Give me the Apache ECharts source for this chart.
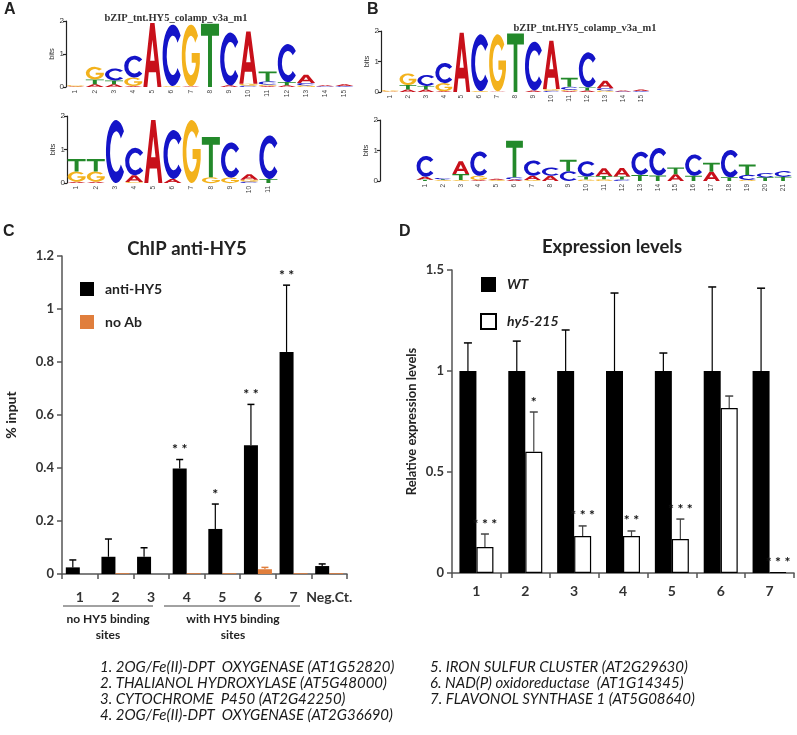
<!DOCTYPE html>
<html><head><meta charset="utf-8">
<script src="https://cdn.jsdelivr.net/npm/echarts@6/dist/echarts.min.js"></script>
<style>html,body{margin:0;padding:0;background:#fff}#c{width:797px;height:735px}</style>
</head><body><div id="c"></div>
<script>
// ================= DATA =================
const logoTitle = 'bZIP_tnt.HY5_colamp_v3a_m1';
const pos11 = ['1','2','3','4','5','6','7','8','9','10','11'];
const pos15 = ['1','2','3','4','5','6','7','8','9','10','11','12','13','14','15'];
const pos21 = ['1','2','3','4','5','6','7','8','9','10','11','12','13','14','15','16','17','18','19','20','21'];
// stacks bottom -> top : [letter, bits]
const logoA1 = [
  [['A',0.02],['G',0.04]],
  [['A',0.08],['T',0.15],['G',0.38]],
  [['A',0.08],['T',0.12],['C',0.36]],
  [['A',0.03],['G',0.26],['C',0.66]],
  [['A',1.94]],
  [['G',0.03],['C',1.86]],
  [['A',0.02],['G',1.87]],
  [['T',1.92]],
  [['A',0.05],['C',1.6]],
  [['C',0.04],['G',0.06],['A',1.58]],
  [['A',0.03],['G',0.04],['C',0.1],['T',0.3]],
  [['A',0.05],['T',0.1],['C',1.15]],
  [['G',0.05],['C',0.07],['A',0.25]],
  [['C',0.02],['A',0.03]],
  [['C',0.03],['A',0.05]]
];
const logoA2 = [
  [['A',0.04],['G',0.3],['T',0.38]],
  [['A',0.04],['G',0.3],['T',0.38]],
  [['C',1.88]],
  [['G',0.03],['A',0.2],['C',0.82]],
  [['A',1.88]],
  [['A',0.12],['C',1.46]],
  [['G',1.88]],
  [['G',0.17],['T',1.2]],
  [['G',0.16],['C',1.05]],
  [['C',0.04],['G',0.06],['A',0.16]],
  [['T',0.12],['C',1.3]]
];
const logoB1 = logoA1;
const logoB2 = [
  [['T',0.04],['A',0.1],['C',0.68]],
  [['G',0.03],['T',0.03],['C',0.04]],
  [['G',0.03],['T',0.2],['A',0.42]],
  [['A',0.03],['G',0.14],['C',0.8]],
  [['G',0.03],['A',0.04]],
  [['A',0.05],['C',0.07],['T',1.2]],
  [['G',0.03],['A',0.14],['C',0.5]],
  [['A',0.17],['C',0.27]],
  [['C',0.32],['T',0.38]],
  [['G',0.05],['T',0.1],['C',0.5]],
  [['G',0.06],['T',0.1],['A',0.26]],
  [['C',0.05],['T',0.1],['A',0.28]],
  [['T',0.2],['C',0.76]],
  [['T',0.18],['C',0.9]],
  [['A',0.22],['T',0.22]],
  [['T',0.17],['C',0.7]],
  [['A',0.3],['T',0.3]],
  [['T',0.12],['C',0.9]],
  [['G',0.04],['C',0.16],['T',0.34]],
  [['T',0.12],['C',0.14]],
  [['T',0.14],['C',0.18]]
];

const chipCats = ['1','2','3','4','5','6','7','Neg.Ct.'];
const chipAnti = [0.025,0.065,0.065,0.398,0.17,0.486,0.838,0.03];
const chipAntiErr = [0.053,0.132,0.099,0.432,0.264,0.64,1.09,0.038];
const chipNoAb = [0,0.003,0,0.003,0.003,0.018,0.003,0.003];
const chipNoAbErr = [null,null,null,null,null,0.025,null,null];
const chipStars = ['','','','**','*','**','**',''];
const chipGroups = ['no HY5 binding\nsites','with HY5 binding\nsites'];

const exprCats = ['1','2','3','4','5','6','7'];
const exprWT = [1,1,1,1,1,1,1];
const exprWTErr = [1.139,1.148,1.203,1.386,1.089,1.416,1.41];
const exprHy5 = [0.129,0.6,0.183,0.183,0.168,0.817,0.005];
const exprHy5Err = [0.193,0.797,0.233,0.208,0.267,0.876,null];
const exprStars = ['***','*','***','**','***','','***'];

const geneLeft = ['1. 2OG/Fe(II)-DPT  OXYGENASE (AT1G52820)','2. THALIANOL HYDROXYLASE (AT5G48000)','3. CYTOCHROME  P450 (AT2G42250)','4. 2OG/Fe(II)-DPT  OXYGENASE (AT2G36690)'];
const geneRight = ['5. IRON SULFUR CLUSTER (AT2G29630)','6. NAD(P) oxidoreductase  (AT1G14345)','7. FLAVONOL SYNTHASE 1 (AT5G08640)'];

// ================= STYLE =================
const LETTERS = 'ACGT';
const LETTER_COLORS = ['#C8101A','#1414C8','#F3B21C','#23892A'];
const LETTER_PATHS = [
  'M0,100 L38,0 L62,0 L100,100 L78,100 L70,77 L30,77 L22,100 Z M37.6,59 L62.4,59 L50,26 Z',
  'M88.3,17.9 A50,50 0 1 0 88.3,82.1 L73,70.6 A30,32 0 1 1 73,29.4 Z',
  'M88.3,17.9 A50,50 0 1 0 98.3,62.9 L98.3,46 L54,46 L54,62 L76,62 L76,66 A30,32 0 1 1 73,29.4 Z',
  'M0,0 L100,0 L100,19 L61,19 L61,100 L39,100 L39,19 L0,19 Z'
];
const FONT = 'Lato, "Open Sans", sans-serif';

function logoData(stacks){
  const out=[];
  stacks.forEach((st,i)=>{ let y=0; st.forEach(([l,h])=>{ out.push([i,y,y+h,LETTERS.indexOf(l)]); y+=h; }); });
  return out;
}
function logoRender(params, api){
  const i=api.value(0), y0=api.value(1), y1=api.value(2), li=api.value(3);
  const pb=api.coord([i,y0]), pt=api.coord([i,y1]);
  const bw=api.size([1,0])[0]*0.94;
  const h=pb[1]-pt[1];
  if(h<0.4) return null;
  return {type:'path', shape:{pathData:LETTER_PATHS[li], x:pb[0]-bw/2, y:pt[1], width:bw, height:h, layout:'cover'}, style:{fill:LETTER_COLORS[li]}};
}
function errRender(offset, capW, color){
  return function(params, api){
    const b=api.coord([api.value(0), api.value(1)]);
    const t=api.coord([api.value(0), api.value(2)]);
    const cx=b[0]+offset;
    return {type:'group', children:[
      {type:'line', shape:{x1:cx,y1:b[1],x2:cx,y2:t[1]}, style:{stroke:color,lineWidth:1.2}},
      {type:'line', shape:{x1:cx-capW/2,y1:t[1],x2:cx+capW/2,y2:t[1]}, style:{stroke:color,lineWidth:1.5}}
    ]};
  };
}
function starRender(stars, offset, gap){
  return function(params, api){
    const idx=api.value(0);
    const s=stars[idx];
    if(!s) return null;
    const t=api.coord([idx, api.value(1)]);
    return {type:'text', x:t[0]+offset, y:t[1]-gap, style:{text:s.split('').join(' '), align:'center', verticalAlign:'bottom', textAlign:'center', textVerticalAlign:'bottom', font:'bold 14px '+FONT, fill:'#111'}};
  };
}
function errData(vals, tops){ return vals.map((v,i)=> [i,v,tops[i]]).filter((d,i)=>tops[i]!=null); }
function starData(tops, vals){ return tops.map((t,i)=>[i, t==null?vals[i]:t]); }

const grids = [
  {left:66, top:21, width:288, height:66},
  {left:67, top:116, width:211, height:67},
  {left:381, top:31, width:269, height:61},
  {left:416, top:120, width:376, height:61},
  {left:62, top:256, width:285, height:318},
  {left:452, top:270, width:342, height:303}
].map(g=>Object.assign({outerBoundsMode:'none', containLabel:false}, g));

function logoX(idx, data){
  return {type:'category', gridIndex:idx, data:data, axisLine:{show:false}, axisTick:{show:false},
    axisLabel:{rotate:90, fontSize:6.5, margin:3, color:'#444', fontFamily:'Liberation Sans', interval:0}};
}
function logoY(idx, offset){
  return {type:'value', gridIndex:idx, min:0, max:2, interval:1, offset:offset||0,
    name:'bits', nameLocation:'middle', nameGap:10, nameTextStyle:{fontSize:7.5, color:'#333', fontFamily:'Liberation Sans'},
    axisLine:{show:true, lineStyle:{color:'#222', width:1.2}}, axisTick:{show:true, length:3, lineStyle:{color:'#222', width:1.2}},
    splitLine:{show:false}, axisLabel:{fontSize:8, margin:2, color:'#333', fontFamily:'Liberation Sans'}};
}

const axisColor = '#555';
const option = {
  animation:false,
  backgroundColor:'#fff',
  grid: grids,
  xAxis: [
    logoX(0,pos15), logoX(1,pos11), logoX(2,pos15), logoX(3,pos21),
    {type:'category', gridIndex:4, data:chipCats, axisLine:{lineStyle:{color:axisColor,width:1.5}},
      axisTick:{show:true, length:5, lineStyle:{color:axisColor,width:1.5}},
      axisLabel:{interval:0, margin:16, fontSize:14, fontWeight:'bold', color:'#333', fontFamily:FONT}},
    {type:'category', gridIndex:5, data:exprCats, axisLine:{lineStyle:{color:axisColor,width:1.5}},
      axisTick:{show:true, length:5, lineStyle:{color:axisColor,width:1.5}},
      axisLabel:{interval:0, margin:11, fontSize:14, fontWeight:'bold', color:'#333', fontFamily:FONT}}
  ],
  yAxis: [
    logoY(0), logoY(1), logoY(2), logoY(3,36),
    {type:'value', gridIndex:4, min:0, max:1.2, interval:0.2, splitLine:{show:false},
      axisLine:{show:true, lineStyle:{color:axisColor,width:1.5}}, axisTick:{show:true, length:5, lineStyle:{color:axisColor,width:1.5}},
      axisLabel:{fontSize:13, fontWeight:'bold', color:'#333', fontFamily:FONT, margin:8},
      name:'% input', nameLocation:'middle', nameGap:44, nameTextStyle:{fontSize:14, fontWeight:'bold', color:'#222', fontFamily:FONT}},
    {type:'value', gridIndex:5, min:0, max:1.5, interval:0.5, splitLine:{show:false},
      axisLine:{show:true, lineStyle:{color:axisColor,width:1.5}}, axisTick:{show:true, length:5, lineStyle:{color:axisColor,width:1.5}},
      axisLabel:{fontSize:13, fontWeight:'bold', color:'#333', fontFamily:FONT, margin:8},
      name:'Relative expression levels', nameLocation:'middle', nameGap:34, nameTextStyle:{fontSize:13, fontWeight:'bold', color:'#222', fontFamily:FONT}}
  ],
  legend: [
    {data:['anti-HY5','no Ab'], orient:'vertical', left:80, top:282, padding:0, icon:'rect', itemWidth:14, itemHeight:14, itemGap:19,
      textStyle:{fontSize:14, fontWeight:'bold', color:'#222', fontFamily:FONT, padding:[0,0,0,6]}},
    {data:['WT','hy5-215'], orient:'vertical', left:480, top:277, padding:0, icon:'rect', itemWidth:15, itemHeight:15, itemGap:21,
      textStyle:{fontSize:14, fontWeight:'bold', fontStyle:'italic', color:'#222', fontFamily:FONT, padding:[0,0,0,6]}}
  ],
  series: [
    {type:'custom', xAxisIndex:0, yAxisIndex:0, data:logoData(logoA1), renderItem:logoRender, encode:{x:0,y:[1,2]}, silent:true},
    {type:'custom', xAxisIndex:1, yAxisIndex:1, data:logoData(logoA2), renderItem:logoRender, encode:{x:0,y:[1,2]}, silent:true},
    {type:'custom', xAxisIndex:2, yAxisIndex:2, data:logoData(logoB1), renderItem:logoRender, encode:{x:0,y:[1,2]}, silent:true},
    {type:'custom', xAxisIndex:3, yAxisIndex:3, data:logoData(logoB2), renderItem:logoRender, encode:{x:0,y:[1,2]}, silent:true},
    {type:'bar', name:'anti-HY5', xAxisIndex:4, yAxisIndex:4, data:chipAnti, barWidth:14, barGap:'0%', itemStyle:{color:'#000'}},
    {type:'bar', name:'no Ab', xAxisIndex:4, yAxisIndex:4, data:chipNoAb, barWidth:14, barGap:'0%', itemStyle:{color:'#E07E3C'}},
    {type:'custom', xAxisIndex:4, yAxisIndex:4, data:errData(chipAnti,chipAntiErr), renderItem:errRender(-7,7,'#000'), encode:{x:0,y:[1,2]}, z:3},
    {type:'custom', xAxisIndex:4, yAxisIndex:4, data:errData(chipNoAb,chipNoAbErr), renderItem:errRender(7,7,'#E07E3C'), encode:{x:0,y:[1,2]}, z:3},
    {type:'custom', xAxisIndex:4, yAxisIndex:4, data:starData(chipAntiErr,chipAnti), renderItem:starRender(chipStars,-7,3), encode:{x:0,y:1}, z:3},
    {type:'bar', name:'WT', xAxisIndex:5, yAxisIndex:5, data:exprWT, barWidth:17, barGap:'0%', itemStyle:{color:'#000'}},
    {type:'bar', name:'hy5-215', xAxisIndex:5, yAxisIndex:5, data:exprHy5, barWidth:17, barGap:'0%', itemStyle:{color:'#fff', borderColor:'#000', borderWidth:1.2}},
    {type:'custom', xAxisIndex:5, yAxisIndex:5, data:errData(exprWT,exprWTErr), renderItem:errRender(-8.5,8,'#000'), encode:{x:0,y:[1,2]}, z:3},
    {type:'custom', xAxisIndex:5, yAxisIndex:5, data:errData(exprHy5,exprHy5Err), renderItem:errRender(8.5,8,'#444'), encode:{x:0,y:[1,2]}, z:3},
    {type:'custom', xAxisIndex:5, yAxisIndex:5, data:starData(exprHy5Err,exprHy5), renderItem:starRender(exprStars,8.5,3), encode:{x:0,y:1}, z:3}
  ],
  graphic: []
};

const G = option.graphic;
function txt(x,y,text,font,align,fill){
  G.push({type:'text', x:x, y:y, silent:true, style:{text:text, font:font, align:align||'left', textAlign:align||'left', verticalAlign:'middle', textVerticalAlign:'middle', fill:fill||'#222'}});
}
// panel letters
txt(4,10,'A','bold 16px "Liberation Sans"');
txt(367,10,'B','bold 16px "Liberation Sans"');
txt(3,232,'C','bold 16px "Liberation Sans"');
txt(399,232,'D','bold 16px "Liberation Sans"');
// logo titles
txt(176,18,logoTitle,'bold 10.5px "Liberation Serif"','center','#333');
txt(585,28,logoTitle,'bold 10.5px "Liberation Serif"','center','#333');
// chart titles
txt(187,249,'ChIP anti-HY5','bold 18.5px '+FONT,'center','#222');
txt(612,247,'Expression levels','bold 18.5px '+FONT,'center','#222');
// group lines under C
G.push({type:'line', silent:true, shape:{x1:63,y1:606,x2:153,y2:606}, style:{stroke:'#444',lineWidth:1}});
G.push({type:'line', silent:true, shape:{x1:164,y1:606,x2:300,y2:606}, style:{stroke:'#444',lineWidth:1}});
G.push({type:'text', x:108, y:611, silent:true, style:{text:chipGroups[0], font:'bold 12px '+FONT, align:'center', textAlign:'center', verticalAlign:'top', textVerticalAlign:'top', lineHeight:16, fill:'#222'}});
G.push({type:'text', x:233, y:611, silent:true, style:{text:chipGroups[1], font:'bold 12px '+FONT, align:'center', textAlign:'center', verticalAlign:'top', textVerticalAlign:'top', lineHeight:16, fill:'#222'}});
// gene list
geneLeft.forEach((s,i)=>txt(100,667+i*16,s,'italic 15px '+FONT,'left','#1a1a1a'));
geneRight.forEach((s,i)=>txt(430,667+i*16,s,'italic 15px '+FONT,'left','#1a1a1a'));

const chart = echarts.init(document.getElementById('c'), null, {renderer:'canvas', width:797, height:735});
chart.setOption(option);
</script>
</body></html>
